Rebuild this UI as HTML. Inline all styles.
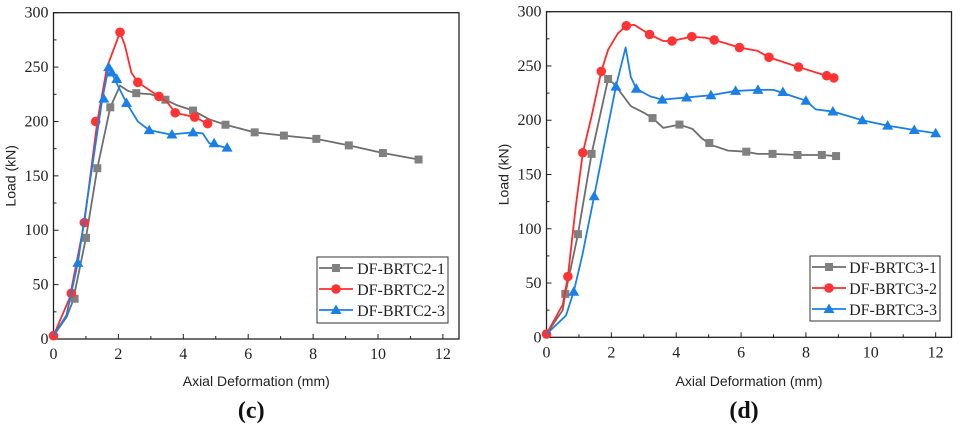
<!DOCTYPE html>
<html><head><meta charset="utf-8"><style>
body{margin:0;background:#fff;width:960px;height:430px;overflow:hidden}
svg text{font-family:"Liberation Serif",serif}
.t{font-size:16px;fill:#222}
.at{font-family:"Liberation Sans",sans-serif!important;font-size:14px;fill:#222}
</style></head><body>
<svg id="svg" width="960" height="430" xmlns="http://www.w3.org/2000/svg"></svg>
<script>
// Panel (c)
const c1Line=[[0,3],[0.4,20],[0.6,35],[1,93],[1.35,157],[1.75,213],[2.05,233],[2.3,228],[2.55,226],[3,225],[3.45,220],[3.8,215],[4.3,210],[4.8,202],[5.3,197],[6.2,190],[7.1,187],[8.1,184],[9.1,178],[10.15,171],[11.25,165]];
const c1Mk=[[0.65,37],[1,93],[1.35,157],[1.75,213],[2.55,226],[3.45,220],[4.3,210],[5.3,197],[6.2,190],[7.1,187],[8.1,184],[9.1,178],[10.15,171],[11.25,165]];
const c2Line=[[0,3],[0.5,38],[0.95,107],[1.35,200],[1.65,250],[2.05,282],[2.2,270],[2.4,245],[2.6,236],[3.25,223],[3.5,218],[3.75,208],[4.35,204],[4.75,198]];
const c2Mk=[[0,3],[0.55,42],[0.95,107],[1.3,200],[2.05,282],[2.6,236],[3.25,223],[3.75,208],[4.35,204],[4.75,198]];
const c3Line=[[0,3],[0.4,22],[0.75,70],[1.1,140],[1.5,220],[1.7,250],[1.9,238],[2.25,217],[2.6,200],[2.95,192],[3.6,188],[4.3,190],[4.6,189],[4.8,180],[5.3,176]];
const c3Mk=[[0.75,70],[1.55,221],[1.7,250],[1.8,245],[1.95,239],[2.25,217],[2.95,192],[3.65,188],[4.3,190],[4.95,180],[5.35,176]];
// Panel (d)
const d1Line=[[0,3],[0.5,25],[0.58,40],[0.97,95],[1.39,169],[1.9,238],[2.1,233],[2.6,213],[3,207],[3.27,202],[3.6,193],[4.1,196],[4.5,192],[4.8,183],[5.1,177],[5.6,172],[6.16,171],[6.5,169],[6.97,169],[7.74,168],[8.49,168],[8.93,167]];
const d1Mk=[[0.58,40],[0.97,95],[1.39,169],[1.9,238],[3.27,202],[4.1,196],[5.02,179],[6.16,171],[6.97,169],[7.74,168],[8.49,168],[8.93,167]];
const d2Line=[[0,3],[0.5,30],[0.66,56],[0.9,120],[1.12,170],[1.4,205],[1.69,245],[1.9,265],[2.2,280],[2.46,287],[2.7,288],[3.18,279],[3.6,273],[3.87,273],[4.48,277],[4.9,276],[5.17,274],[5.95,267],[6.5,264],[6.86,258],[7.77,249],[8.64,241],[8.86,239]];
const d2Mk=[[0,3],[0.66,56],[1.12,170],[1.69,245],[2.46,287],[3.18,279],[3.87,273],[4.48,277],[5.17,274],[5.95,267],[6.86,258],[7.77,249],[8.64,241],[8.86,239]];
const d3Line=[[0,3],[0.6,20],[0.84,42],[1.1,75],[1.47,130],[1.8,180],[2.14,231],[2.44,267],[2.6,240],[2.77,229],[3.2,222],[3.57,219],[4.32,221],[5.07,223],[5.83,227],[6.52,228],[7,228],[7.6,222],[8.0,218],[8.3,210],[8.83,208],[9.74,200],[10.52,195],[11.34,191],[12,188]];
const d3Mk=[[0.84,42],[1.47,130],[2.14,231],[2.77,229],[3.57,219],[4.32,221],[5.07,223],[5.83,227],[6.52,228],[7.29,226],[8.0,218],[8.83,208],[9.74,200],[10.52,195],[11.34,191],[12,188]];
const xTicks=[0,2,4,6,8,10,12];
const yTicks=[0,50,100,150,200,250,300];
const labelsC=["DF-BRTC2-1","DF-BRTC2-2","DF-BRTC2-3"];
const labelsD=["DF-BRTC3-1","DF-BRTC3-2","DF-BRTC3-3"];

const NS="http://www.w3.org/2000/svg",svg=document.getElementById('svg');
function mk(tag,attrs,parent){const e=document.createElementNS(NS,tag);for(const k in attrs)e.setAttribute(k,attrs[k]);(parent||svg).appendChild(e);return e;}
const COL=["#6e6e6e","#ff2b2b","#1a80e8"],MCOL=["#808080","#ff3333","#1a80e8"];
function marker(g,type,x,y,i){
  let e;
  if(type==0)e=mk('rect',{x:x-4,y:y-4,width:8,height:8,fill:MCOL[0]},g);
  else if(type==1)e=mk('circle',{cx:x,cy:y,r:4.8,fill:MCOL[1]},g);
  else e=mk('polygon',{points:`${x},${y-5.5} ${x-5.5},${y+4} ${x+5.5},${y+4}`,fill:MCOL[2]},g);
  
  
}
function panel(o){
  const g=mk('g',{});
  
  
  const sx=v=>o.x0+v*o.px, sy=v=>o.y0-v*(o.y0-o.yTop)/300;
  const box=mk('rect',{x:o.x0,y:o.yTop,width:o.x1-o.x0,height:o.y0-o.yTop,fill:'none',stroke:'#222','stroke-width':1.3},g);
  
  for(let v=0;v<=300;v+=25){const y=sy(v);mk('line',{x1:o.x0,x2:o.x0+(v%50?3:5),y1:y,y2:y,stroke:'#222'},g);}
  for(let v=1;v<=12;v++){const x=sx(v);mk('line',{x1:x,x2:x,y1:o.y0,y2:o.y0-(v%2?3:5),stroke:'#222'},g);}
  yTicks.forEach(v=>{const t=mk('text',{x:o.x0-5,y:sy(v)+5,'text-anchor':'end',class:'t'},g);t.textContent=v;
    });
  xTicks.forEach(v=>{const t=mk('text',{x:sx(v),y:o.y0+20,'text-anchor':'middle',class:'t'},g);t.textContent=v;
    });
  const xt=mk('text',{x:(o.x0+o.x1)/2,y:386,'text-anchor':'middle',class:'at'},g);xt.textContent='Axial Deformation (mm)';
  
  const yt=mk('text',{x:0,y:0,'text-anchor':'middle',class:'at',transform:`translate(${o.x0-38},${(o.yTop+o.y0)/2}) rotate(-90)`},g);yt.textContent='Load (kN)';
  
  const cap=mk('text',{x:(o.x0+o.x1)/2-5,y:418,'text-anchor':'middle','font-size':'24','font-weight':'bold',fill:'#111'},g);cap.textContent=o.cap;
  
  o.series.forEach((s,i)=>{
    const p=mk('polyline',{points:s[0].map(d=>sx(d[0])+','+sy(d[1])).join(' '),fill:'none',stroke:COL[i],'stroke-width':1.8,'stroke-linejoin':'round'},g);
    
    s[1].forEach(d=>marker(g,i,sx(d[0]),sy(d[1]),i));
  });
  const L=o.leg;
  const lb=mk('rect',{x:L[0],y:L[1],width:L[2],height:L[3],fill:'#fff',stroke:'#333','stroke-width':1},g);
  
  o.labels.forEach((lab,i)=>{
    const y=L[1]+11+i*21;
    const ln=mk('line',{x1:L[0]+2,x2:L[0]+36,y1:y,y2:y,stroke:COL[i],'stroke-width':1.8},g);
    
    marker(g,i,L[0]+19,y,i);
    const t=mk('text',{x:L[0]+L[2]-3,y:y+6,'text-anchor':'end','font-size':'16',fill:'#222'},g);t.textContent=lab;
    
  });
}
panel({name:'chart-c',cap:'(c)',x0:53.5,x1:459,px:32.45,y0:339,yTop:12.7,leg:[317,257,131,66],labels:labelsC,
  series:[[c1Line,c1Mk],[c2Line,c2Mk],[c3Line,c3Mk]]});
panel({name:'chart-d',cap:'(d)',x0:546.5,x1:951.5,px:32.43,y0:337.3,yTop:11.7,leg:[810,256,130,65],labels:labelsD,
  series:[[d1Line,d1Mk],[d2Line,d2Mk],[d3Line,d3Mk]]});
</script>
</body></html>
